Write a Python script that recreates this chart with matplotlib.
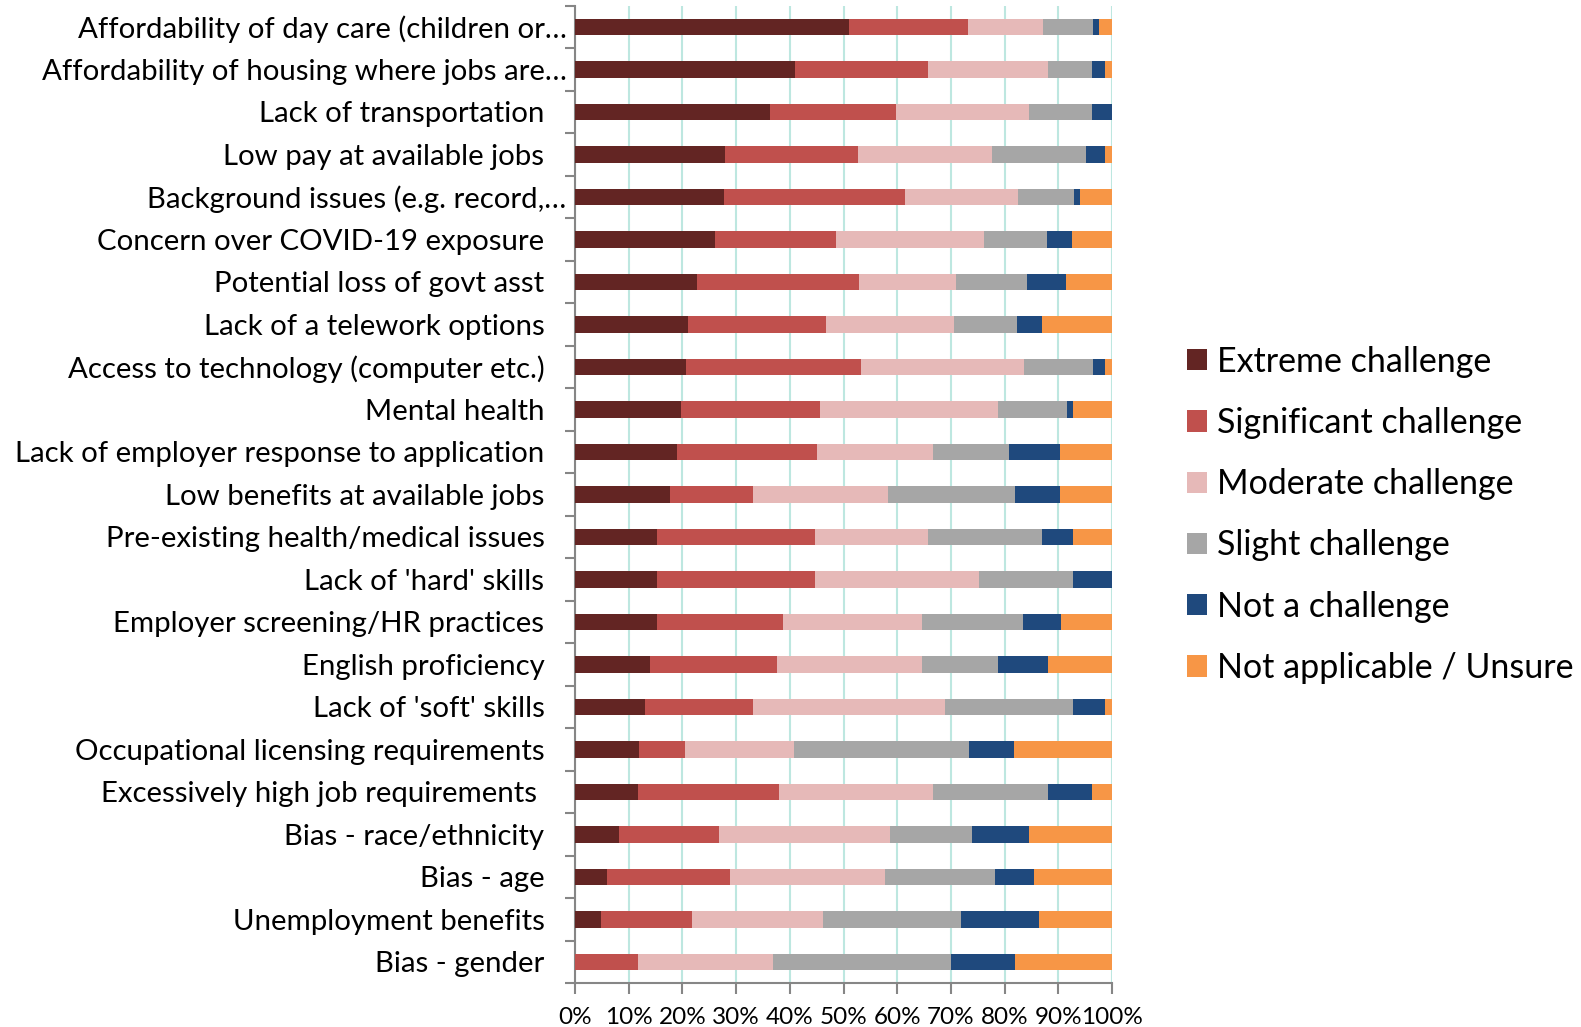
import matplotlib
matplotlib.use("Agg")
import matplotlib.pyplot as plt
from matplotlib.ticker import FixedLocator, FuncFormatter
from matplotlib.transforms import ScaledTranslation
import numpy as np

plt.rcParams['font.family'] = ['Lato', 'DejaVu Sans']

categories = [
    "Affordability of day care (children or\u2026",
    "Affordability of housing where jobs are\u2026",
    "Lack of transportation",
    "Low pay at available jobs",
    "Background issues (e.g. record,\u2026",
    "Concern over COVID-19 exposure",
    "Potential loss of govt asst",
    "Lack of a telework options",
    "Access to technology (computer etc.)",
    "Mental health",
    "Lack of employer response to application",
    "Low benefits at available jobs",
    "Pre-existing health/medical issues",
    "Lack of 'hard' skills",
    "Employer screening/HR practices",
    "English proficiency",
    "Lack of 'soft' skills",
    "Occupational licensing requirements",
    "Excessively high job requirements ",
    "Bias - race/ethnicity",
    "Bias - age",
    "Unemployment benefits",
    "Bias - gender",
]

extreme = [51.0, 41.0, 36.3, 28.0, 27.8, 26.0, 22.7, 21.0, 20.7, 19.8, 18.9, 17.7,
           15.2, 15.2, 15.2, 14.0, 13.0, 11.9, 11.8, 8.2, 5.9, 4.8, 0.0]
significant = [22.1, 24.7, 23.5, 24.7, 33.6, 22.6, 30.1, 25.8, 32.6, 25.9, 26.2, 15.5,
               29.4, 29.4, 23.5, 23.6, 20.2, 8.5, 26.1, 18.7, 22.9, 17.0, 11.8]
moderate = [14.1, 22.4, 24.8, 24.9, 21.0, 27.5, 18.2, 23.8, 30.3, 33.1, 21.5, 25.1,
            21.2, 30.6, 25.9, 27.0, 35.7, 20.4, 28.7, 31.8, 28.9, 24.4, 25.1]
slight = [9.3, 8.2, 11.7, 17.5, 10.5, 11.7, 13.2, 11.7, 12.8, 12.8, 14.2, 23.7,
          21.2, 17.6, 18.8, 14.1, 23.8, 32.5, 21.4, 15.3, 20.5, 25.6, 33.2]
not_challenge = [1.0, 2.4, 3.7, 3.6, 1.1, 4.8, 7.2, 4.6, 2.3, 1.1, 9.5, 8.3,
                 5.7, 7.2, 7.1, 9.4, 6.0, 8.4, 8.3, 10.5, 7.2, 14.6, 11.9]
not_applicable = [2.5, 1.3, 0.0, 1.3, 6.0, 7.4, 8.6, 13.1, 1.3, 7.3, 9.7, 9.7,
                  7.3, 0.0, 9.5, 11.9, 1.3, 18.3, 3.7, 15.5, 14.6, 13.6, 18.0]

series_names = ["Extreme challenge", "Significant challenge", "Moderate challenge",
                "Slight challenge", "Not a challenge", "Not applicable / Unsure"]
colors = ["#632523", "#C0504D", "#E6B9B8", "#A6A6A6", "#1F497D", "#F79646"]

series = [extreme, significant, moderate, slight, not_challenge, not_applicable]

fig = plt.figure(figsize=(15.81, 10.27), dpi=100)
ax = fig.add_axes([0.3637, 0.0428, 0.3397, 0.9518])

y = np.arange(len(categories))
left = np.zeros(len(categories))
handles = []
for vals, name, col in zip(series, series_names, colors):
    vals = np.array(vals)
    h = ax.barh(y, vals, left=left, height=0.39, color=col, label=name, zorder=3)
    handles.append(h)
    left += vals

ax.set_xlim(0, 100)
ax.set_ylim(len(categories) - 0.5, -0.5)

# x axis: percent ticks with light vertical gridlines
ax.set_xticks(np.arange(0, 101, 10))
ax.xaxis.set_major_formatter(FuncFormatter(lambda v, p: f"{int(v)}%"))
ax.tick_params(axis='x', direction='out', length=8, width=1.5, color='#868686',
               labelsize=17.5, pad=9)
ax.grid(axis='x', color='#BDE7E0', linewidth=1.5, zorder=0)

# y axis: labels at category centres, tick marks between categories
ax.set_yticks(y)
ax.set_yticklabels(categories)
ax.yaxis.set_minor_locator(FixedLocator(np.arange(-0.5, len(categories), 1.0)))
ax.tick_params(axis='y', which='major', length=0, labelsize=21.2, pad=22)
ax.tick_params(axis='y', which='minor', direction='out', length=7, width=1.5,
               color='#868686')

# truncated labels sit closer to the axis
for lbl in ax.get_yticklabels():
    if lbl.get_text().endswith("\u2026"):
        lbl.set_transform(lbl.get_transform() + ScaledTranslation(16 / 72, 0, fig.dpi_scale_trans))

for side in ('top', 'right'):
    ax.spines[side].set_visible(False)
for side in ('left', 'bottom'):
    ax.spines[side].set_color('#868686')
    ax.spines[side].set_linewidth(1.5)

fig.legend(handles=handles, labels=series_names, loc='center left',
           bbox_to_anchor=(0.751, 0.4987), frameon=False, fontsize=24.5,
           handlelength=0.58, handleheight=0.58, handletextpad=0.3,
           labelspacing=0.86, borderpad=0, borderaxespad=0)

fig.savefig("out.png", dpi=100)
